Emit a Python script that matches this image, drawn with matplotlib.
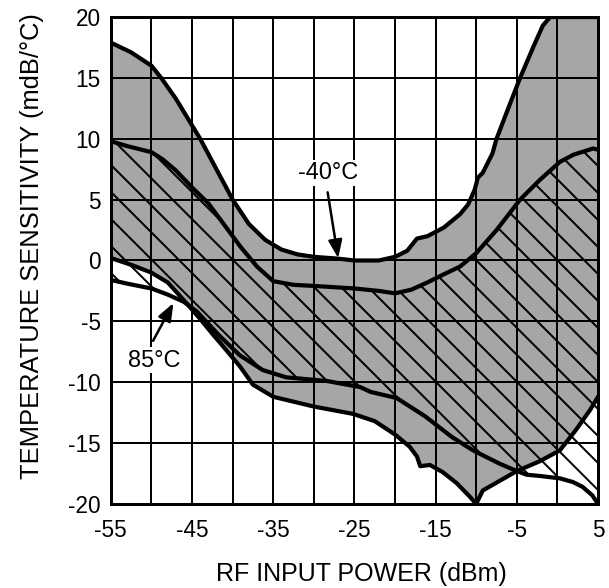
import numpy as np
import matplotlib
matplotlib.use('Agg')
import matplotlib.pyplot as plt

# -40C band, upper edge
x_hot_top = [-55, -52.5, -50, -48.8, -47, -45, -44, -42, -40, -38, -36, -34, -32, -30, -27,
             -25, -22, -20, -18.5, -17.3, -16, -14, -12, -11, -10.2, -9.8, -9.2, -8, -7.5,
             -6, -4.6, -3, -1.8, -0.9, 5]
y_hot_top = [17.9, 17.1, 16.0, 15.0, 13.3, 11.1, 10.0, 7.5, 5.0, 3.0, 1.7, 0.9, 0.5, 0.3, 0.15,
             0.0, 0.0, 0.3, 0.8, 1.8, 2.0, 2.7, 3.8, 4.6, 5.8, 6.8, 7.2, 8.8, 10.0,
             12.6, 15.0, 17.5, 19.3, 20.0, 20.0]

# -40C band, lower edge
x_hot_bot = [-55, -52.3, -50, -48, -46.5, -45.3, -44, -42.4, -41.5, -39.1, -37.5, -35, -30,
             -25.2, -22.5, -20, -18.2, -17.3, -16.9, -15.7, -14.1, -12.4, -10.8, -10, -9.2,
             -7.1, -5, -2.2, 0.3, 2.3, 4, 5]
y_hot_bot = [0.2, -0.4, -1.0, -1.8, -2.9, -3.8, -4.8, -6.1, -6.8, -8.7, -10.2, -11.2, -12.0,
             -12.6, -13.2, -14.3, -15.3, -16.1, -16.9, -16.8, -17.4, -18.3, -19.4, -20.0, -18.9,
             -18.1, -17.3, -16.5, -15.6, -13.9, -12.3, -11.2]

# 85C band, upper edge
x_cold_top = [-55, -53, -50, -48.6, -47, -45, -43, -41, -39, -37, -35, -32.5, -29.7, -25, -22,
              -20, -18, -16, -14.5, -12, -10, -7.5, -4.6, -2.2, 0.3, 2, 4.4, 5]
y_cold_top = [9.8, 9.4, 8.9, 8.3, 7.4, 6.0, 4.7, 2.9, 1.1, -0.5, -1.7, -2.0, -2.1, -2.3, -2.5,
              -2.7, -2.4, -1.8, -1.3, -0.5, 0.6, 2.5, 5.0, 6.6, 8.1, 8.7, 9.2, 9.1]

# 85C band, lower edge
x_cold_bot = [-55, -53, -50, -48, -46, -44.4, -43, -41.6, -39.1, -36.3, -33.4, -28.4, -24.3,
              -23, -19.8, -16.3, -13, -10.4, -7.1, -5, -3.8, -2.2, 0.3, 1.9, 3.1, 4.3, 5]
y_cold_bot = [-1.6, -1.9, -2.3, -2.8, -3.4, -4.2, -5.2, -6.2, -7.8, -9.0, -9.6, -9.9, -10.4,
              -10.8, -11.3, -12.8, -14.5, -15.6, -16.7, -17.3, -17.6, -17.7, -17.9, -18.2,
              -18.6, -19.3, -20.0]

x_ticks = [-55, -50, -45, -40, -35, -30, -25, -20, -15, -10, -5, 0, 5]
x_tick_labels = ['-55', '', '-45', '', '-35', '', '-25', '', '-15', '', '-5', '', '5']
y_ticks = [-20, -15, -10, -5, 0, 5, 10, 15, 20]

# dpi picked so the '\' hatch spacing matches the original
dpi = 81
PX = 72 / dpi  # points per pixel

plt.rcParams['font.family'] = ['Liberation Sans', 'DejaVu Sans']
plt.rcParams['axes.unicode_minus'] = False
plt.rcParams['hatch.linewidth'] = 2 * PX

fig = plt.figure(figsize=(609 / dpi, 588 / dpi), dpi=dpi)
ax = fig.add_axes([0.182, 0.143, 0.800, 0.828])

gray = '#a6a6a6'
# gray region (-40C)
ax.fill(np.concatenate([x_hot_top, x_hot_bot[::-1]]),
        np.concatenate([y_hot_top, y_hot_bot[::-1]]),
        facecolor=gray, edgecolor='none', zorder=1)
# hatched region (85C)
ax.fill(np.concatenate([x_cold_top, x_cold_bot[::-1]]),
        np.concatenate([y_cold_top, y_cold_bot[::-1]]),
        facecolor='none', edgecolor='black', hatch='\\', linewidth=0, zorder=1.5)

for xs, ys in [(x_hot_top, y_hot_top), (x_hot_bot, y_hot_bot),
               (x_cold_top, y_cold_top), (x_cold_bot, y_cold_bot)]:
    ax.plot(xs, ys, color='black', lw=4.2 * PX, solid_joinstyle='round', zorder=3)

ax.set_xlim(-55, 5)
ax.set_ylim(-20, 20)
ax.set_xticks(x_ticks)
ax.set_xticklabels(x_tick_labels)
ax.set_yticks(y_ticks)
ax.tick_params(length=0, labelsize=22.5 * PX)
ax.tick_params(axis='x', pad=15 * PX)
ax.tick_params(axis='y', pad=10 * PX)
ax.set_axisbelow(False)
ax.grid(True, color='black', lw=2 * PX, zorder=2)
for s in ax.spines.values():
    s.set_linewidth(3 * PX)
    s.set_zorder(3.5)

ax.set_xlabel('RF INPUT POWER (dBm)', fontsize=25 * PX, labelpad=20 * PX, x=0.515)
ax.set_ylabel('TEMPERATURE SENSITIVITY (mdB/°C)', fontsize=25.5 * PX, labelpad=24 * PX,
              y=0.53)

arrow = dict(arrowstyle='-|>,head_length=0.9,head_width=0.35', color='black', lw=2.5 * PX,
             shrinkA=0, shrinkB=0, mutation_scale=16.7 * PX)
ax.annotate('', xy=(-27.0, 0.2), xytext=(-28.3, 5.6), arrowprops=arrow, zorder=4)
ax.annotate('', xy=(-47.3, -3.5), xytext=(-49.8, -6.6), arrowprops=arrow, zorder=4)
ax.text(-28.3, 7.2, '-40°C', fontsize=23.5 * PX, ha='center', va='center', zorder=5,
        bbox=dict(facecolor='white', edgecolor='none', pad=1.5 * PX))
ax.text(-49.7, -8.2, '85°C', fontsize=23.5 * PX, ha='center', va='center', zorder=5,
        bbox=dict(facecolor='white', edgecolor='none', pad=1.5 * PX))

fig.savefig('out.png', dpi=dpi)
